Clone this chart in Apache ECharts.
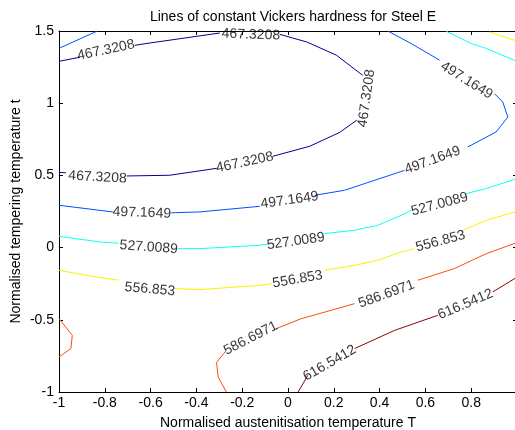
<!DOCTYPE html>
<html>
<head>
<meta charset="utf-8">
<script src="https://cdn.jsdelivr.net/npm/echarts@6/dist/echarts.min.js"></script>
<style>
html,body{margin:0;padding:0;background:#fff;}
#chart{width:515px;height:430px;}
</style>
</head>
<body>
<div id="chart"></div>
<script>
// ---- data ----
const levels = ['467.3208', '497.1649', '527.0089', '556.853', '586.6971', '616.5412'];
const xTicks = [-1, -0.8, -0.6, -0.4, -0.2, 0, 0.2, 0.4, 0.6, 0.8];
const yTicks = [-1, -0.5, 0, 0.5, 1, 1.5];

// contour line segments, [T, t] pairs (gaps where labels sit)
const line467 = [
  [[-1, 1.290], [-0.909, 1.318]],
  [[-0.669, 1.401], [-0.603, 1.417], [-0.298, 1.486]],
  [[-0.036, 1.477], [0.082, 1.424], [0.212, 1.332], [0.326, 1.193]],
  [[0.300, 0.882], [0.226, 0.798], [0.095, 0.702], [-0.067, 0.632]],
  [[-0.311, 0.549], [-0.517, 0.501], [-0.704, 0.496]],
  [[-1, 0.521], [-0.97, 0.518]]
];
const line497 = [
  [[-1, 1.380], [-0.835, 1.498]],
  [[0.436, 1.5], [0.538, 1.413], [0.662, 1.298]],
  [[0.902, 1.066], [0.938, 1.008], [0.960, 0.904], [0.909, 0.801], [0.785, 0.697]],
  [[0.509, 0.535], [0.247, 0.397], [0.116, 0.362]],
  [[-0.123, 0.286], [-0.385, 0.247], [-0.51, 0.241]],
  [[-0.765, 0.247], [-1, 0.293]]
];
const line527 = [
  [[0.691, 1.498], [0.801, 1.413], [0.867, 1.378], [1, 1.290]],
  [[-1, 0.078], [-0.822, 0.039], [-0.74, 0.030]],
  [[-0.481, -0.007], [-0.385, -0.007], [-0.123, 0.016], [-0.09, 0.025]],
  [[0.160, 0.097], [0.291, 0.120], [0.391, 0.154], [0.495, 0.224], [0.538, 0.258]],
  [[0.778, 0.374], [0.866, 0.409], [1, 0.478]]
];
const line557 = [
  [[0.880, 1.493], [1, 1.430]],
  [[-1, -0.157], [-0.836, -0.204], [-0.74, -0.225]],
  [[-0.494, -0.284], [-0.385, -0.291], [-0.123, -0.261], [-0.07, -0.250]],
  [[0.160, -0.157], [0.291, -0.123], [0.391, -0.088], [0.495, -0.030], [0.553, -0.007]],
  [[0.764, 0.120], [0.866, 0.189], [1, 0.250]]
];
const line587 = [
  [[-1, -0.492], [-0.942, -0.607], [-0.948, -0.699], [-1, -0.758]],
  [[-0.269, -1.0], [-0.305, -0.896], [-0.312, -0.796], [-0.269, -0.711]],
  [[-0.051, -0.561], [0.058, -0.492], [0.189, -0.434], [0.291, -0.388]],
  [[0.567, -0.226], [0.727, -0.145], [0.866, -0.042], [1, 0.035]]
];
const line617 = [
  [[0.044, -1.0], [0.087, -0.884]],
  [[0.291, -0.699], [0.466, -0.573], [0.654, -0.469]],
  [[0.894, -0.307], [1, -0.205]]
];

// inline label anchors: [T, t, angle]
const labels467 = [[-0.795, 1.367, 12], [-0.162, 1.474, -2], [0.343, 1.034, 82], [-0.189, 0.590, 12], [-0.832, 0.487, -3]];
const labels497 = [[0.780, 1.158, -32], [0.631, 0.605, 20], [0.007, 0.328, 8], [-0.638, 0.241, -2]];
const labels527 = [[-0.608, 0.002, -4], [0.034, 0.044, 8], [0.662, 0.300, 15]];
const labels557 = [[-0.603, -0.289, -5], [0.042, -0.220, 10], [0.666, 0.044, 15]];
const labels587 = [[-0.163, -0.628, 27], [0.430, -0.323, 20]];
const labels617 = [[0.182, -0.800, 30], [0.775, -0.393, 23]];

const allLines = [line467, line497, line527, line557, line587, line617];
const allLabels = [labels467, labels497, labels527, labels557, labels587, labels617];
const colors = ['#00009a', '#0050ff', '#10ffef', '#f4f400', '#ff4a10', '#900000'];

// ---- chart ----
const FONT = '"Liberation Sans", Arial, sans-serif';
const FS = 14;
const series = [];
allLines.forEach((segs, i) => {
  segs.forEach(seg => {
    series.push({
      type: 'line', data: seg, showSymbol: false, symbol: 'none', silent: true,
      lineStyle: { color: colors[i], width: 1 }, clip: true, z: 3
    });
  });
});
allLabels.forEach((arr, i) => {
  series.push({
    type: 'scatter', symbolSize: 0, silent: true, z: 5,
    itemStyle: { color: 'transparent' },
    data: arr.map(p => ({ value: [p[0], p[1]], label: { rotate: p[2] } })),
    label: {
      show: true, position: 'inside', formatter: levels[i],
      color: '#000', fontSize: FS, fontFamily: FONT,
      textBorderWidth: 0, textBorderColor: 'transparent',
      align: 'center', verticalAlign: 'middle'
    }
  });
});

const axisCommon = {
  type: 'value', splitLine: { show: false },
  axisLine: { show: true, onZero: false, lineStyle: { color: '#000', width: 1 } },
  axisTick: { show: true, inside: true, length: 4, lineStyle: { color: '#000' } }
};

const chart = echarts.init(document.getElementById('chart'), null, { renderer: 'canvas' });
chart.setOption({
  animation: false,
  backgroundColor: '#fff',
  title: {
    text: 'Lines of constant Vickers hardness for Steel E',
    left: 288, top: 5, textAlign: 'center',
    textStyle: { fontSize: FS, fontWeight: 'normal', color: '#000', fontFamily: FONT }
  },
  grid: { left: 59, top: 31, width: 458, height: 361, containLabel: false, outerBoundsMode: 'none' },
  xAxis: [
    Object.assign({}, axisCommon, {
      position: 'bottom', min: -1, max: 1, interval: 0.2,
      name: 'Normalised austenitisation temperature T', nameLocation: 'middle', nameGap: 24,
      nameMoveOverlap: false,
      nameTextStyle: { fontSize: FS, color: '#000', fontFamily: FONT },
      axisLabel: {
        show: true, margin: 4, fontSize: FS, color: '#000', fontFamily: FONT,
        formatter: v => { const t = xTicks.find(k => Math.abs(k - v) < 1e-6); return t === undefined ? '' : String(t); }
      }
    }),
    Object.assign({}, axisCommon, {
      position: 'top', min: -1, max: 1, interval: 0.2, axisLabel: { show: false }
    })
  ],
  yAxis: [
    Object.assign({}, axisCommon, {
      position: 'left', min: -1, max: 1.5, interval: 0.5,
      name: 'Normalised tempering temperature t', nameLocation: 'middle', nameGap: 36,
      nameMoveOverlap: false,
      nameTextStyle: { fontSize: FS, color: '#000', fontFamily: FONT },
      axisLabel: {
        show: true, margin: 5, fontSize: FS, color: '#000', fontFamily: FONT,
        formatter: v => { const t = yTicks.find(k => Math.abs(k - v) < 1e-6); return t === undefined ? '' : String(t); }
      }
    }),
    Object.assign({}, axisCommon, {
      position: 'right', min: -1, max: 1.5, interval: 0.5, axisLabel: { show: false }
    })
  ],
  series: series
});
</script>
</body>
</html>
